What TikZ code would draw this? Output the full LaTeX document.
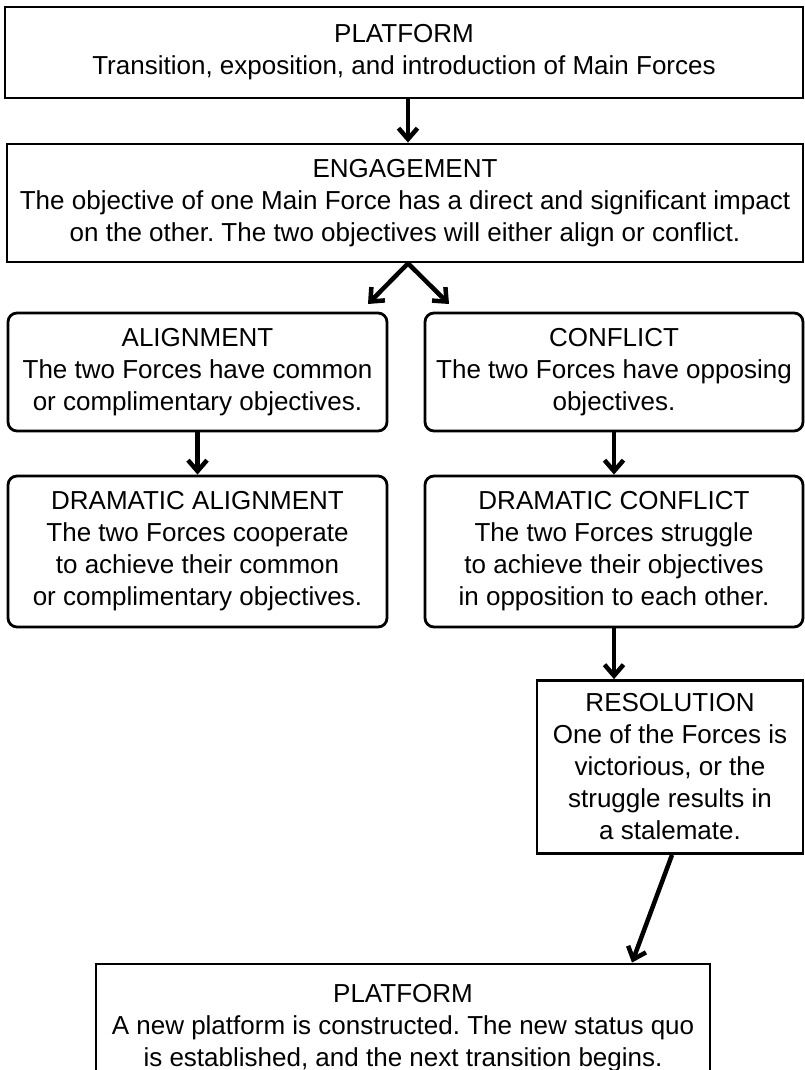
\documentclass[tikz,border=0pt]{standalone}
\usepackage{fontspec}
\setmainfont{Liberation Sans}
\usetikzlibrary{arrows.meta,calc}
\begin{document}
\frenchspacing
\begin{tikzpicture}[x=1pt,y=-1pt,
  txt/.style={font=\fontsize{26}{32}\selectfont\frenchspacing, align=center, inner sep=0pt},
  sqbox/.style={draw, line width=2.8pt, txt},
  rdbox/.style={draw, line width=2.8pt, rounded corners=9pt, txt},
  arr/.style={line width=4.5pt, -{Straight Barb[length=11pt,width=19pt,line width=4.5pt]}}]
\useasboundingbox (0,0) rectangle (805,1070);
\clip (0,0) rectangle (805,1070);
\node[sqbox, minimum width=798pt, minimum height=91pt] (p1) at (404,52.5)
  {PLATFORM\\Transition, exposition, and introduction of Main Forces};
\node[sqbox, minimum width=796pt, minimum height=118pt] (eng) at (405,203)
  {ENGAGEMENT\\The objective of one Main Force has a direct and significant impact\\on the other. The two objectives will either align or conflict.};
\node[rdbox, minimum width=379pt, minimum height=118pt] (al) at (197.5,372)
  {ALIGNMENT\\The two Forces have common\\or complimentary objectives.};
\node[rdbox, minimum width=378pt, minimum height=118pt] (co) at (614,372)
  {CONFLICT\\The two Forces have opposing\\objectives.};
\node[rdbox, minimum width=379pt, minimum height=151pt] (dal) at (197.5,551.5)
  {DRAMATIC ALIGNMENT\\The two Forces cooperate\\to achieve their common\\or complimentary objectives.};
\node[rdbox, minimum width=378pt, minimum height=151pt] (dco) at (614,551.5)
  {DRAMATIC CONFLICT\\The two Forces struggle\\to achieve their objectives\\in opposition to each other.};
\node[sqbox, minimum width=266pt, minimum height=173pt] (res) at (670,767)
  {RESOLUTION\\One of the Forces is\\victorious, or the\\struggle results in\\a stalemate.};
\node[sqbox, minimum width=614pt, minimum height=128pt] (p2) at (403,1028)
  {PLATFORM\\A new platform is constructed. The new status quo\\is established, and the next transition begins.};
\coordinate (apex) at ($(eng.south)+(3,0)$);
\coordinate (p2in) at ($(p2.north)+(229,0)$);
\draw[arr] ($(p1.south)+(4,0)$) -- ($(eng.north)+(3,0)$);
\draw[arr] (apex) -- (368,304);
\draw[arr] (apex) -- (449,304);
\draw[arr] (al.south) -- (dal.north);
\draw[arr] (co.south) -- (dco.north);
\draw[arr] (dco.south) -- (dco.south |- res.north);
\draw[arr] ($(res.south)+(2,0)$) -- (p2in);
\end{tikzpicture}
\end{document}
